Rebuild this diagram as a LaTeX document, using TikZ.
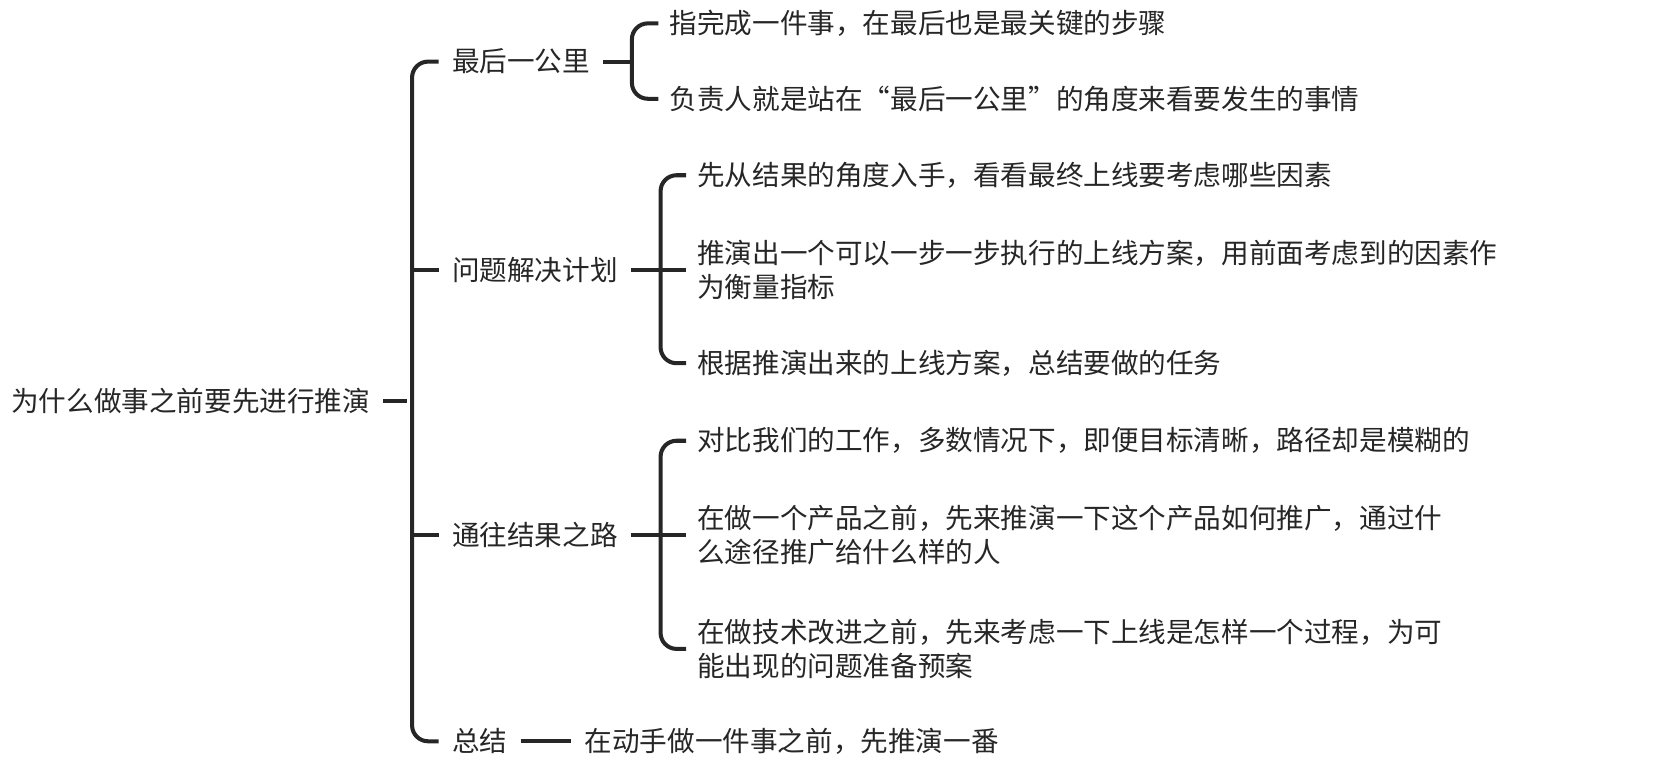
\documentclass[tikz,border=0pt]{standalone}
\usepackage{fontspec}
\setmainfont{Noto Sans CJK SC}
\usetikzlibrary{positioning}
\tikzset{
  topic/.style={anchor=west, inner sep=0pt, text=black!85,
    font=\fontsize{7.85}{9.7}\selectfont, align=left},
  link/.style={line width=1.15pt, black!85, rounded corners=0.16cm},
}
\begin{document}
\begin{tikzpicture}[x=0.010615cm,y=-0.010615cm]
\useasboundingbox (0cm,0cm) rectangle (16.56cm,-7.76cm);
% root
\node[topic] (root) at (10,378) {为什么做事之前要先进行推演};
% main branches
\node[topic] (b1) at (425,58) {最后一公里};
\node[topic] (b2) at (425,254) {问题解决计划};
\node[topic] (b3) at (425,504) {通往结果之路};
\node[topic] (b4) at (425,698) {总结};
% leaves
\node[topic] (c11) at (630,22) {指完成一件事，在最后也是最关键的步骤};
\node[topic] (c12) at (630,93) {负责人就是站在“最后一公里”的角度来看要发生的事情};
\node[topic] (c21) at (656,165) {先从结果的角度入手，看看最终上线要考虑哪些因素};
\node[topic] (c22) at (656,254) {推演出一个可以一步一步执行的上线方案，用前面考虑到的因素作\\为衡量指标};
\node[topic] (c23) at (656,342) {根据推演出来的上线方案，总结要做的任务};
\node[topic] (c31) at (656,415) {对比我们的工作，多数情况下，即便目标清晰，路径却是模糊的};
\node[topic] (c32) at (656,504) {在做一个产品之前，先来推演一下这个产品如何推广，通过什\\么途径推广给什么样的人};
\node[topic] (c33) at (656,611) {在做技术改进之前，先来考虑一下上线是怎样一个过程，为可\\能出现的问题准备预案};
\node[topic] (c41) at (550,698) {在动手做一件事之前，先推演一番};
% trunk
\draw[link] (root.east) ++(12,0) -- ++(22,0);
\draw[link] ([xshift=-0.127cm]b1.west) -| (388,378) |- ([xshift=-0.127cm]b4.west);
\draw[link] (388,254) -- ([xshift=-0.127cm]b2.west);
\draw[link] (388,504) -- ([xshift=-0.127cm]b3.west);
% branch 1
\draw[link] (b1.east) ++(12,0) -- ++(25,0);
\draw[link] ([xshift=-0.106cm]c11.west) -| (595,58) |- ([xshift=-0.106cm]c12.west);
% branch 2
\draw[link] (b2.east) ++(12,0) -- ++(26,0);
\draw[link] ([xshift=-0.106cm]c21.west) -| (622,254) |- ([xshift=-0.106cm]c23.west);
\draw[link] (622,254) -- ([xshift=-0.106cm]c22.west);
% branch 3
\draw[link] (b3.east) ++(12,0) -- ++(26,0);
\draw[link] ([xshift=-0.106cm]c31.west) -| (622,504) |- ([xshift=-0.106cm]c33.west);
\draw[link] (622,504) -- ([xshift=-0.106cm]c32.west);
% branch 4
\draw[link] (b4.east) ++(12,0) -- ([xshift=-0.127cm]c41.west);
\end{tikzpicture}
\end{document}
